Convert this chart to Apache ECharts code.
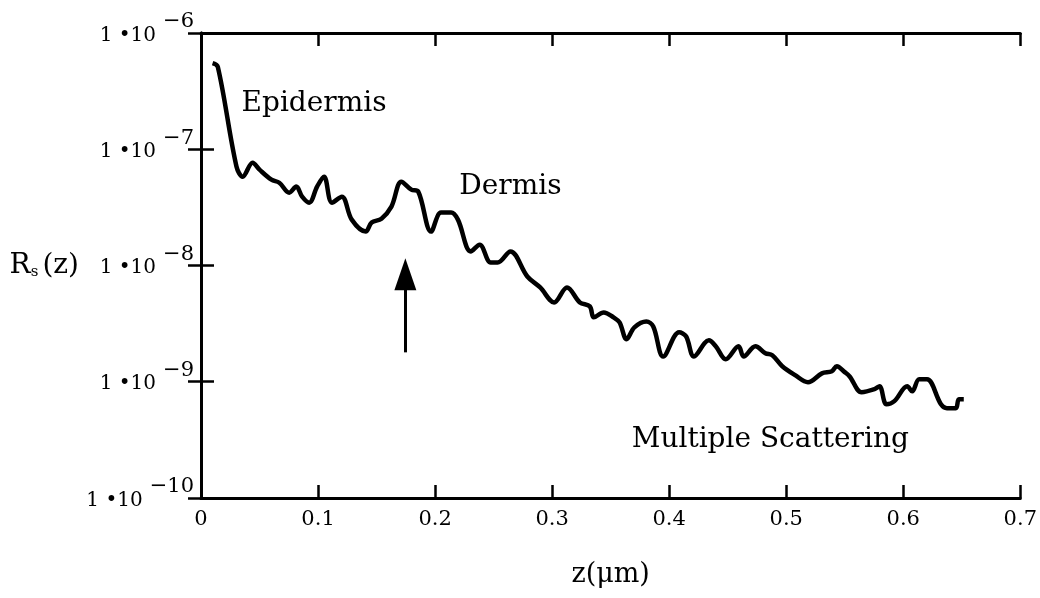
<!DOCTYPE html>
<html>
<head>
<meta charset="utf-8">
<script src="https://cdn.jsdelivr.net/npm/echarts@6/dist/echarts.min.js"></script>
<style>
  html, body { margin: 0; padding: 0; background: #fff; overflow: hidden; }
  #chart { width: 1040px; height: 598px; }
</style>
</head>
<body>
<div id="chart"></div>
<script>
// Depth z (µm) and reflectance R_s(z) along the profile
const depth = [
  0.0099, 0.0144, 0.0303, 0.0356, 0.0441, 0.0500, 0.0602, 0.0669, 0.0754, 0.0814,
  0.0864, 0.0924, 0.0992, 0.1051, 0.1119, 0.1203, 0.1288, 0.1407, 0.1458, 0.1542,
  0.1627, 0.1712, 0.1797, 0.1856, 0.1966, 0.2051, 0.2136, 0.2195, 0.2305, 0.2381,
  0.2475, 0.2534, 0.2644, 0.2788, 0.2898, 0.3017, 0.3127, 0.3237, 0.3322, 0.3356,
  0.3441, 0.3525, 0.3576, 0.3636, 0.3703, 0.3805, 0.3864, 0.3949, 0.4085, 0.4144,
  0.4212, 0.4339, 0.4398, 0.4483, 0.4593, 0.4636, 0.4737, 0.4822, 0.4881, 0.4966,
  0.5076, 0.5186, 0.5305, 0.5390, 0.5432, 0.5500, 0.5542, 0.5644, 0.5754, 0.5797,
  0.5856, 0.5924, 0.6034, 0.6076, 0.6136, 0.6203, 0.6322, 0.6373, 0.6449, 0.6475,
  0.6517
];
const reflectance = [
  5.50e-7, 5.11e-7, 7.11e-8, 5.81e-8, 7.66e-8, 6.67e-8, 5.47e-8, 5.15e-8, 4.23e-8, 4.77e-8,
  3.91e-8, 3.47e-8, 4.77e-8, 5.81e-8, 3.47e-8, 3.91e-8, 2.48e-8, 1.96e-8, 2.34e-8, 2.53e-8,
  3.21e-8, 5.26e-8, 4.49e-8, 4.32e-8, 1.96e-8, 2.85e-8, 2.85e-8, 2.48e-8, 1.32e-8, 1.51e-8,
  1.06e-8, 1.06e-8, 1.32e-8, 8.05e-9, 6.47e-9, 4.81e-9, 6.47e-9, 4.81e-9, 4.45e-9, 3.58e-9,
  3.95e-9, 3.58e-9, 3.24e-9, 2.32e-9, 2.94e-9, 3.30e-9, 2.99e-9, 1.65e-9, 2.66e-9, 2.46e-9,
  1.65e-9, 2.27e-9, 2.02e-9, 1.56e-9, 2.02e-9, 1.65e-9, 2.02e-9, 1.76e-9, 1.69e-9, 1.36e-9,
  1.14e-9, 9.91e-10, 1.18e-9, 1.23e-9, 1.36e-9, 1.21e-9, 1.11e-9, 8.13e-10, 8.63e-10, 9.15e-10,
  6.41e-10, 6.81e-10, 9.15e-10, 8.28e-10, 1.05e-9, 1.05e-9, 6.41e-10, 5.93e-10, 5.93e-10, 7.08e-10,
  7.08e-10
];

// Region labels placed in data coordinates
const regionNames = ['Epidermis', 'Dermis', 'Multiple Scattering'];
const regionZ = [0.0966, 0.2644, 0.4864];
const regionR = [2.46e-7, 4.77e-8, 3.15e-10];

// Arrow marking the epidermis/dermis boundary (tail and head centre)
const arrowZ = 0.1746;
const arrowFrom = 1.79e-9;
const arrowTo = 8.4e-9;

// Axis ranges and ticks
const xTicks = [0, 0.1, 0.2, 0.3, 0.4, 0.5, 0.6, 0.7];
const yMin = 1e-10, yMax = 1e-6;

const serif = '"DejaVu Serif", "Liberation Serif", serif';
const chart = echarts.init(document.getElementById('chart'));

const axisLine = { show: true, lineStyle: { color: '#000', width: 3 } };
const axisTick = { show: true, inside: true, length: 13, lineStyle: { color: '#000', width: 2.5 } };

chart.setOption({
  animation: false,
  backgroundColor: '#fff',
  grid: { left: 201, right: 12, top: 33, bottom: 100, containLabel: false },
  xAxis: [{
    type: 'value', min: xTicks[0], max: xTicks[xTicks.length - 1], interval: 0.1,
    position: 'bottom',
    axisLine, axisTick, splitLine: { show: false },
    axisLabel: {
      margin: 11, color: '#000', fontFamily: serif, fontSize: 21,
      formatter: v => (Math.round(v * 10) / 10).toString()
    },
    name: 'z(\u03bcm)', nameLocation: 'middle', nameGap: 63,
    nameTextStyle: { color: '#000', fontFamily: serif, fontSize: 27 }
  }, {
    type: 'value', min: xTicks[0], max: xTicks[xTicks.length - 1], interval: 0.1,
    position: 'top',
    axisLine, axisTick, axisLabel: { show: false }, splitLine: { show: false }
  }],
  yAxis: [{
    type: 'log', logBase: 10, min: yMin, max: yMax,
    position: 'left',
    axisLine, axisTick, splitLine: { show: false }, minorTick: { show: false },
    axisLabel: {
      margin: 7, color: '#000',
      formatter: v => '{b|1 \u202210}{sup|\u2212' + Math.round(-Math.log10(v)) + '}',
      rich: {
        b: { fontFamily: serif, fontSize: 20, color: '#000', padding: [5, 0, 0, 0] },
        sup: { fontFamily: serif, fontSize: 21, color: '#000', padding: [0, 0, 22, 7] }
      }
    },
    name: '{r|R}{s|s}{r|(z)}', nameLocation: 'middle', nameRotate: 0, nameGap: 122,
    nameTextStyle: {
      rich: {
        r: { fontFamily: serif, fontSize: 28, color: '#000' },
        s: { fontFamily: serif, fontSize: 15, color: '#000', padding: [14, 4, 0, 0] }
      }
    }
  }, {
    type: 'log', logBase: 10, min: yMin, max: yMax,
    position: 'right',
    axisLine, axisTick, axisLabel: { show: false }, splitLine: { show: false }
  }],
  series: [{
    type: 'line',
    data: depth.map((z, i) => [z, reflectance[i]]),
    showSymbol: false,
    smooth: 0.35,
    lineStyle: { color: '#000', width: 4.5 },
    markLine: {
      silent: true,
      symbol: ['none', 'triangle'],
      symbolSize: [22, 32],
      label: { show: false },
      lineStyle: { color: '#000', width: 3, type: 'solid' },
      data: [[{ coord: [arrowZ, arrowFrom] }, { coord: [arrowZ, arrowTo] }]]
    },
    markPoint: {
      silent: true,
      symbol: 'circle', symbolSize: 0,
      label: {
        show: true, position: 'inside', color: '#000',
        fontFamily: serif, fontSize: 28,
        formatter: p => p.name
      },
      data: regionNames.map((n, i) => ({ name: n, coord: [regionZ[i], regionR[i]] }))
    }
  }]
});
</script>
</body>
</html>
